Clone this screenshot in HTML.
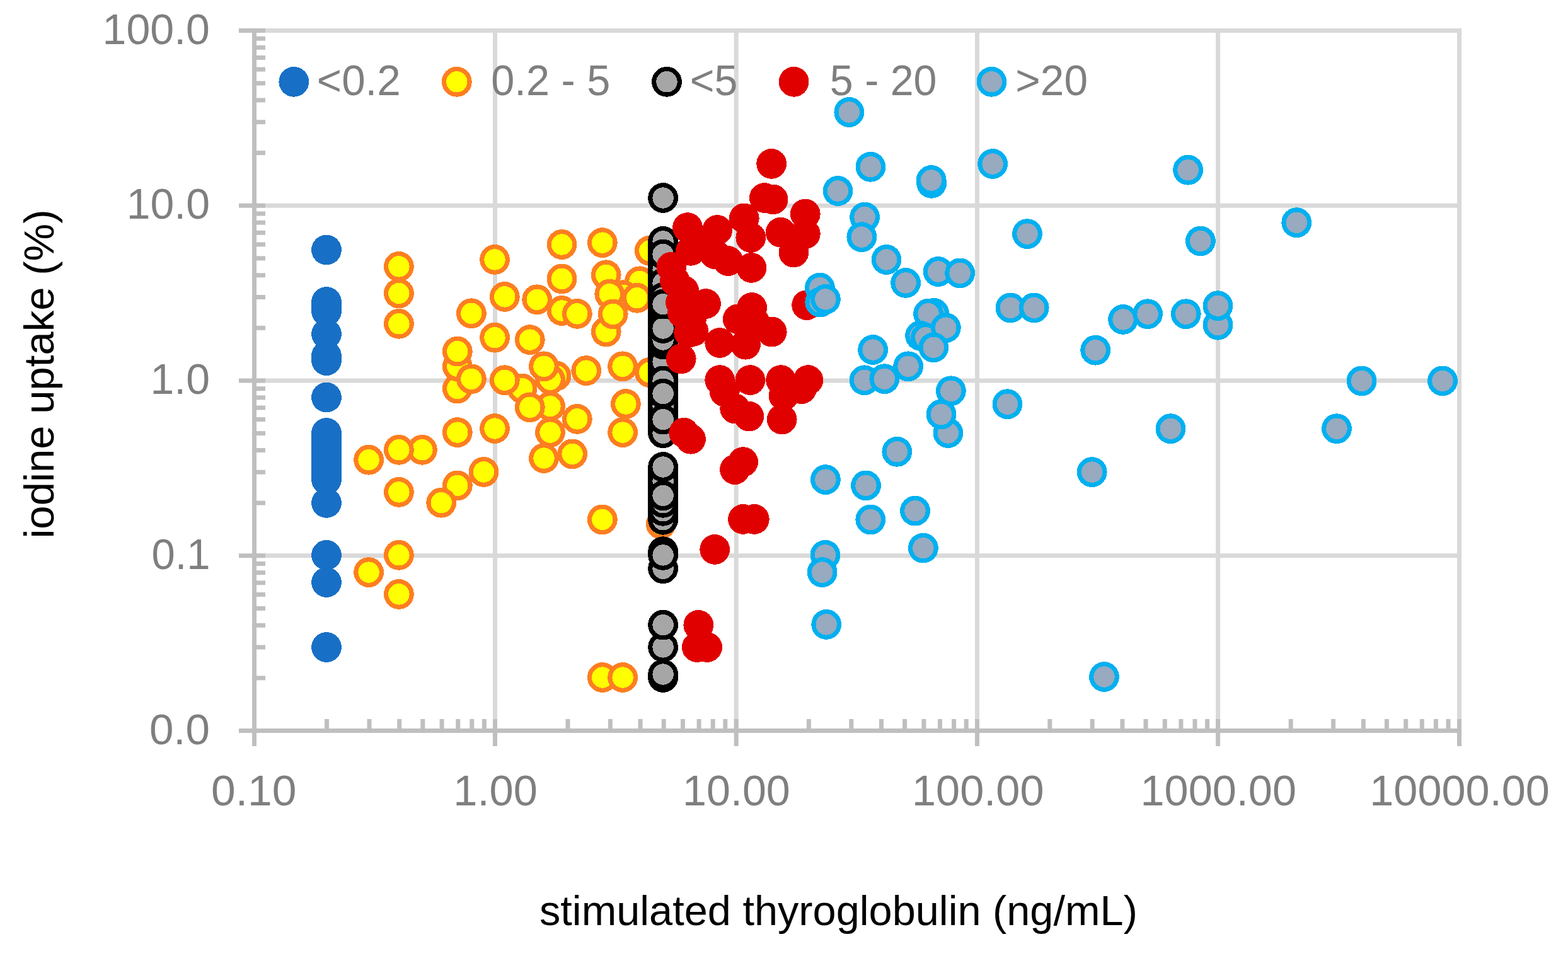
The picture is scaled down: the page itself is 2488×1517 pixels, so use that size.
<!DOCTYPE html>
<html lang="en"><head><meta charset="utf-8"><title>iodine uptake vs stimulated thyroglobulin</title>
<style>html,body{margin:0;padding:0;background:#fff}svg{display:block}text{font-family:"Liberation Sans",Arial,sans-serif}</style></head><body>
<svg width="2488" height="1517" viewBox="0 0 2488 1517">
<rect width="2488" height="1517" fill="#fff"/>
<g stroke="#d9d9d9" stroke-width="7.0" fill="none">
<line x1="403.5" y1="48.5" x2="2319.0" y2="48.5"/>
<line x1="403.5" y1="326.2" x2="2319.0" y2="326.2"/>
<line x1="403.5" y1="604.0" x2="2319.0" y2="604.0"/>
<line x1="403.5" y1="881.8" x2="2319.0" y2="881.8"/>
<line x1="785.5" y1="45.0" x2="785.5" y2="1159.5"/>
<line x1="1168.2" y1="45.0" x2="1168.2" y2="1159.5"/>
<line x1="1550.5" y1="45.0" x2="1550.5" y2="1159.5"/>
<line x1="1932.6" y1="45.0" x2="1932.6" y2="1159.5"/>
<line x1="2315.5" y1="45.0" x2="2315.5" y2="1159.5"/>
</g>
<g stroke="#bfbfbf" stroke-width="7.0" fill="none">
<line x1="403.5" y1="45.0" x2="403.5" y2="1184"/>
<line x1="379" y1="1159.5" x2="2319.0" y2="1159.5"/>
<line x1="403.5" y1="1075.9" x2="421" y2="1075.9"/>
<line x1="403.5" y1="1027.0" x2="421" y2="1027.0"/>
<line x1="403.5" y1="992.3" x2="421" y2="992.3"/>
<line x1="403.5" y1="965.4" x2="421" y2="965.4"/>
<line x1="403.5" y1="943.4" x2="421" y2="943.4"/>
<line x1="403.5" y1="924.8" x2="421" y2="924.8"/>
<line x1="403.5" y1="908.7" x2="421" y2="908.7"/>
<line x1="403.5" y1="894.5" x2="421" y2="894.5"/>
<line x1="379" y1="881.8" x2="421" y2="881.8"/>
<line x1="403.5" y1="798.1" x2="421" y2="798.1"/>
<line x1="403.5" y1="749.2" x2="421" y2="749.2"/>
<line x1="403.5" y1="714.5" x2="421" y2="714.5"/>
<line x1="403.5" y1="687.6" x2="421" y2="687.6"/>
<line x1="403.5" y1="665.6" x2="421" y2="665.6"/>
<line x1="403.5" y1="647.0" x2="421" y2="647.0"/>
<line x1="403.5" y1="630.9" x2="421" y2="630.9"/>
<line x1="403.5" y1="616.7" x2="421" y2="616.7"/>
<line x1="379" y1="604.0" x2="421" y2="604.0"/>
<line x1="403.5" y1="520.4" x2="421" y2="520.4"/>
<line x1="403.5" y1="471.5" x2="421" y2="471.5"/>
<line x1="403.5" y1="436.8" x2="421" y2="436.8"/>
<line x1="403.5" y1="409.9" x2="421" y2="409.9"/>
<line x1="403.5" y1="387.9" x2="421" y2="387.9"/>
<line x1="403.5" y1="369.3" x2="421" y2="369.3"/>
<line x1="403.5" y1="353.2" x2="421" y2="353.2"/>
<line x1="403.5" y1="339.0" x2="421" y2="339.0"/>
<line x1="379" y1="326.2" x2="421" y2="326.2"/>
<line x1="403.5" y1="242.6" x2="421" y2="242.6"/>
<line x1="403.5" y1="193.7" x2="421" y2="193.7"/>
<line x1="403.5" y1="159.0" x2="421" y2="159.0"/>
<line x1="403.5" y1="132.1" x2="421" y2="132.1"/>
<line x1="403.5" y1="110.1" x2="421" y2="110.1"/>
<line x1="403.5" y1="91.5" x2="421" y2="91.5"/>
<line x1="403.5" y1="75.4" x2="421" y2="75.4"/>
<line x1="403.5" y1="61.2" x2="421" y2="61.2"/>
<line x1="379" y1="48.5" x2="421" y2="48.5"/>
<line x1="518.6" y1="1141" x2="518.6" y2="1159.5"/>
<line x1="586.0" y1="1141" x2="586.0" y2="1159.5"/>
<line x1="633.7" y1="1141" x2="633.7" y2="1159.5"/>
<line x1="670.8" y1="1141" x2="670.8" y2="1159.5"/>
<line x1="701.1" y1="1141" x2="701.1" y2="1159.5"/>
<line x1="726.7" y1="1141" x2="726.7" y2="1159.5"/>
<line x1="748.8" y1="1141" x2="748.8" y2="1159.5"/>
<line x1="768.4" y1="1141" x2="768.4" y2="1159.5"/>
<line x1="785.5" y1="1141" x2="785.5" y2="1184"/>
<line x1="901.0" y1="1141" x2="901.0" y2="1159.5"/>
<line x1="968.4" y1="1141" x2="968.4" y2="1159.5"/>
<line x1="1016.1" y1="1141" x2="1016.1" y2="1159.5"/>
<line x1="1053.2" y1="1141" x2="1053.2" y2="1159.5"/>
<line x1="1083.5" y1="1141" x2="1083.5" y2="1159.5"/>
<line x1="1109.1" y1="1141" x2="1109.1" y2="1159.5"/>
<line x1="1131.2" y1="1141" x2="1131.2" y2="1159.5"/>
<line x1="1150.8" y1="1141" x2="1150.8" y2="1159.5"/>
<line x1="1168.2" y1="1141" x2="1168.2" y2="1184"/>
<line x1="1283.4" y1="1141" x2="1283.4" y2="1159.5"/>
<line x1="1350.8" y1="1141" x2="1350.8" y2="1159.5"/>
<line x1="1398.5" y1="1141" x2="1398.5" y2="1159.5"/>
<line x1="1435.6" y1="1141" x2="1435.6" y2="1159.5"/>
<line x1="1465.9" y1="1141" x2="1465.9" y2="1159.5"/>
<line x1="1491.5" y1="1141" x2="1491.5" y2="1159.5"/>
<line x1="1513.6" y1="1141" x2="1513.6" y2="1159.5"/>
<line x1="1533.2" y1="1141" x2="1533.2" y2="1159.5"/>
<line x1="1550.5" y1="1141" x2="1550.5" y2="1184"/>
<line x1="1665.8" y1="1141" x2="1665.8" y2="1159.5"/>
<line x1="1733.2" y1="1141" x2="1733.2" y2="1159.5"/>
<line x1="1780.9" y1="1141" x2="1780.9" y2="1159.5"/>
<line x1="1818.0" y1="1141" x2="1818.0" y2="1159.5"/>
<line x1="1848.3" y1="1141" x2="1848.3" y2="1159.5"/>
<line x1="1873.9" y1="1141" x2="1873.9" y2="1159.5"/>
<line x1="1896.0" y1="1141" x2="1896.0" y2="1159.5"/>
<line x1="1915.6" y1="1141" x2="1915.6" y2="1159.5"/>
<line x1="1932.6" y1="1141" x2="1932.6" y2="1184"/>
<line x1="2048.2" y1="1141" x2="2048.2" y2="1159.5"/>
<line x1="2115.6" y1="1141" x2="2115.6" y2="1159.5"/>
<line x1="2163.3" y1="1141" x2="2163.3" y2="1159.5"/>
<line x1="2200.4" y1="1141" x2="2200.4" y2="1159.5"/>
<line x1="2230.7" y1="1141" x2="2230.7" y2="1159.5"/>
<line x1="2256.3" y1="1141" x2="2256.3" y2="1159.5"/>
<line x1="2278.4" y1="1141" x2="2278.4" y2="1159.5"/>
<line x1="2298.0" y1="1141" x2="2298.0" y2="1159.5"/>
<line x1="2315.5" y1="1141" x2="2315.5" y2="1184"/>
</g>
<text x="162.6" y="69.9" font-size="68.5" fill="#7f7f7f" textLength="170.4" lengthAdjust="spacingAndGlyphs">100.0</text>
<text x="200.7" y="347.4" font-size="68.5" fill="#7f7f7f" textLength="132.3" lengthAdjust="spacingAndGlyphs">10.0</text>
<text x="238.5" y="625.2" font-size="68.5" fill="#7f7f7f" textLength="94.5" lengthAdjust="spacingAndGlyphs">1.0</text>
<text x="240.4" y="903.0" font-size="68.5" fill="#7f7f7f" textLength="93.2" lengthAdjust="spacingAndGlyphs">0.1</text>
<text x="236.9" y="1180.6" font-size="68.5" fill="#7f7f7f" textLength="96.2" lengthAdjust="spacingAndGlyphs">0.0</text>
<text x="335.0" y="1278.0" font-size="68.5" fill="#7f7f7f" textLength="135.4" lengthAdjust="spacingAndGlyphs">0.10</text>
<text x="719.3" y="1278.0" font-size="68.5" fill="#7f7f7f" textLength="133.6" lengthAdjust="spacingAndGlyphs">1.00</text>
<text x="1083.1" y="1278.0" font-size="68.5" fill="#7f7f7f" textLength="170.7" lengthAdjust="spacingAndGlyphs">10.00</text>
<text x="1447.0" y="1278.0" font-size="68.5" fill="#7f7f7f" textLength="209.5" lengthAdjust="spacingAndGlyphs">100.00</text>
<text x="1809.5" y="1278.0" font-size="68.5" fill="#7f7f7f" textLength="247.5" lengthAdjust="spacingAndGlyphs">1000.00</text>
<text x="2173.3" y="1278.0" font-size="68.5" fill="#7f7f7f" textLength="285.5" lengthAdjust="spacingAndGlyphs">10000.00</text>
<text x="1330.4" y="1468.2" font-size="66.7" fill="#000" text-anchor="middle">stimulated thyroglobulin (ng/mL)</text>
<text transform="translate(85,593.5) rotate(-90)" font-size="67.1" fill="#000" text-anchor="middle">iodine uptake (%)</text>
<g fill="#1770c6" shape-rendering="crispEdges">
<circle cx="518.0" cy="396.5" r="23.9"/>
<circle cx="518.0" cy="479.0" r="23.9"/>
<circle cx="518.0" cy="486.5" r="23.9"/>
<circle cx="518.0" cy="493.8" r="23.9"/>
<circle cx="518.0" cy="530.0" r="23.9"/>
<circle cx="518.0" cy="564.6" r="23.9"/>
<circle cx="518.0" cy="572.1" r="23.9"/>
<circle cx="518.0" cy="630.6" r="23.9"/>
<circle cx="518.0" cy="687.0" r="23.9"/>
<circle cx="518.0" cy="694.4" r="23.9"/>
<circle cx="518.0" cy="701.9" r="23.9"/>
<circle cx="518.0" cy="709.3" r="23.9"/>
<circle cx="518.0" cy="716.7" r="23.9"/>
<circle cx="518.0" cy="724.1" r="23.9"/>
<circle cx="518.0" cy="731.6" r="23.9"/>
<circle cx="518.0" cy="739.0" r="23.9"/>
<circle cx="518.0" cy="746.4" r="23.9"/>
<circle cx="518.0" cy="753.9" r="23.9"/>
<circle cx="518.0" cy="761.3" r="23.9"/>
<circle cx="518.0" cy="797.9" r="23.9"/>
<circle cx="518.0" cy="880.8" r="23.9"/>
<circle cx="518.0" cy="924.0" r="23.9"/>
<circle cx="518.0" cy="1027.0" r="23.9"/>
</g>
<g fill="#ffff00" stroke="#fd7e21" stroke-width="7.2" shape-rendering="crispEdges">
<circle cx="632.9" cy="422.9" r="20.3"/>
<circle cx="632.9" cy="465.5" r="20.3"/>
<circle cx="632.9" cy="513.8" r="20.3"/>
<circle cx="785.0" cy="411.9" r="20.3"/>
<circle cx="891.5" cy="388.0" r="20.3"/>
<circle cx="955.8" cy="385.1" r="20.3"/>
<circle cx="1030.8" cy="397.8" r="20.3"/>
<circle cx="891.5" cy="442.4" r="20.3"/>
<circle cx="961.7" cy="436.3" r="20.3"/>
<circle cx="1015.0" cy="446.3" r="20.3"/>
<circle cx="800.8" cy="470.9" r="20.3"/>
<circle cx="852.2" cy="475.3" r="20.3"/>
<circle cx="988.1" cy="468.2" r="20.3"/>
<circle cx="967.3" cy="466.7" r="20.3"/>
<circle cx="1010.8" cy="472.8" r="20.3"/>
<circle cx="891.5" cy="493.0" r="20.3"/>
<circle cx="915.8" cy="497.9" r="20.3"/>
<circle cx="961.7" cy="526.4" r="20.3"/>
<circle cx="972.7" cy="498.4" r="20.3"/>
<circle cx="747.9" cy="497.2" r="20.3"/>
<circle cx="785.0" cy="535.7" r="20.3"/>
<circle cx="840.8" cy="539.1" r="20.3"/>
<circle cx="725.8" cy="616.6" r="20.3"/>
<circle cx="725.8" cy="581.3" r="20.3"/>
<circle cx="725.8" cy="557.6" r="20.3"/>
<circle cx="747.9" cy="601.3" r="20.3"/>
<circle cx="828.5" cy="616.6" r="20.3"/>
<circle cx="800.8" cy="603.2" r="20.3"/>
<circle cx="882.5" cy="596.5" r="20.3"/>
<circle cx="873.0" cy="602.2" r="20.3"/>
<circle cx="863.0" cy="581.3" r="20.3"/>
<circle cx="930.2" cy="588.1" r="20.3"/>
<circle cx="988.1" cy="581.3" r="20.3"/>
<circle cx="1030.8" cy="591.0" r="20.3"/>
<circle cx="873.0" cy="644.6" r="20.3"/>
<circle cx="840.8" cy="646.3" r="20.3"/>
<circle cx="915.8" cy="664.9" r="20.3"/>
<circle cx="992.9" cy="641.0" r="20.3"/>
<circle cx="988.1" cy="686.1" r="20.3"/>
<circle cx="873.0" cy="686.1" r="20.3"/>
<circle cx="785.0" cy="680.0" r="20.3"/>
<circle cx="725.8" cy="686.1" r="20.3"/>
<circle cx="585.1" cy="729.7" r="20.3"/>
<circle cx="669.9" cy="713.8" r="20.3"/>
<circle cx="632.9" cy="713.8" r="20.3"/>
<circle cx="767.5" cy="748.9" r="20.3"/>
<circle cx="725.8" cy="770.4" r="20.3"/>
<circle cx="700.2" cy="797.7" r="20.3"/>
<circle cx="632.9" cy="780.9" r="20.3"/>
<circle cx="863.0" cy="727.0" r="20.3"/>
<circle cx="908.1" cy="720.4" r="20.3"/>
<circle cx="955.8" cy="824.5" r="20.3"/>
<circle cx="1048.7" cy="831.7" r="20.3"/>
<circle cx="632.9" cy="880.8" r="20.3"/>
<circle cx="585.1" cy="908.1" r="20.3"/>
<circle cx="632.9" cy="942.9" r="20.3"/>
<circle cx="955.8" cy="824.4" r="20.3"/>
<circle cx="955.8" cy="1075.0" r="20.3"/>
<circle cx="988.1" cy="1075.0" r="20.3"/>
</g>
<g fill="#a6a6a6" stroke="#000000" stroke-width="7.2" shape-rendering="crispEdges">
<circle cx="1052.1" cy="501.8" r="20.3"/>
<circle cx="1052.1" cy="560.1" r="20.3"/>
<circle cx="1052.1" cy="508.2" r="20.3"/>
<circle cx="1052.1" cy="495.4" r="20.3"/>
<circle cx="1052.1" cy="415.8" r="20.3"/>
<circle cx="1052.1" cy="592.2" r="20.3"/>
<circle cx="1052.1" cy="586.2" r="20.3"/>
<circle cx="1052.1" cy="775.0" r="20.3"/>
<circle cx="1052.1" cy="460.7" r="20.3"/>
<circle cx="1052.1" cy="752.3" r="20.3"/>
<circle cx="1052.1" cy="676.4" r="20.3"/>
<circle cx="1052.1" cy="438.6" r="20.3"/>
<circle cx="1052.1" cy="817.8" r="20.3"/>
<circle cx="1052.1" cy="658.6" r="20.3"/>
<circle cx="1052.1" cy="651.6" r="20.3"/>
<circle cx="1052.1" cy="567.1" r="20.3"/>
<circle cx="1052.1" cy="553.2" r="20.3"/>
<circle cx="1052.1" cy="396.6" r="20.3"/>
<circle cx="1052.1" cy="389.8" r="20.3"/>
<circle cx="1052.1" cy="617.9" r="20.3"/>
<circle cx="1052.1" cy="611.1" r="20.3"/>
<circle cx="1052.1" cy="637.9" r="20.3"/>
<circle cx="1052.1" cy="631.3" r="20.3"/>
<circle cx="1052.1" cy="804.3" r="20.3"/>
<circle cx="1052.1" cy="514.6" r="20.3"/>
<circle cx="1052.1" cy="489.0" r="20.3"/>
<circle cx="1052.1" cy="421.9" r="20.3"/>
<circle cx="1052.1" cy="409.6" r="20.3"/>
<circle cx="1052.1" cy="598.3" r="20.3"/>
<circle cx="1052.1" cy="580.1" r="20.3"/>
<circle cx="1052.1" cy="533.0" r="20.3"/>
<circle cx="1052.1" cy="527.0" r="20.3"/>
<circle cx="1052.1" cy="466.4" r="20.3"/>
<circle cx="1052.1" cy="455.0" r="20.3"/>
<circle cx="1052.1" cy="792.1" r="20.3"/>
<circle cx="1052.1" cy="780.7" r="20.3"/>
<circle cx="1052.1" cy="769.3" r="20.3"/>
<circle cx="1052.1" cy="758.0" r="20.3"/>
<circle cx="1052.1" cy="746.6" r="20.3"/>
<circle cx="1052.1" cy="681.8" r="20.3"/>
<circle cx="1052.1" cy="671.0" r="20.3"/>
<circle cx="1052.1" cy="444.0" r="20.3"/>
<circle cx="1052.1" cy="433.3" r="20.3"/>
<circle cx="1052.1" cy="477.4" r="20.3"/>
<circle cx="1052.1" cy="542.6" r="20.3"/>
<circle cx="1052.1" cy="1075.0" r="20.3"/>
<circle cx="1052.1" cy="1070.0" r="20.3"/>
<circle cx="1052.1" cy="1026.9" r="20.3"/>
<circle cx="1052.1" cy="991.6" r="20.3"/>
<circle cx="1052.1" cy="902.2" r="20.3"/>
<circle cx="1052.1" cy="875.2" r="20.3"/>
<circle cx="1052.1" cy="880.9" r="20.3"/>
<circle cx="1052.1" cy="824.8" r="20.3"/>
<circle cx="1052.1" cy="810.8" r="20.3"/>
<circle cx="1052.1" cy="797.8" r="20.3"/>
<circle cx="1052.1" cy="763.6" r="20.3"/>
<circle cx="1052.1" cy="786.4" r="20.3"/>
<circle cx="1052.1" cy="741.0" r="20.3"/>
<circle cx="1052.1" cy="687.2" r="20.3"/>
<circle cx="1052.1" cy="644.6" r="20.3"/>
<circle cx="1052.1" cy="665.6" r="20.3"/>
<circle cx="1052.1" cy="574.0" r="20.3"/>
<circle cx="1052.1" cy="604.4" r="20.3"/>
<circle cx="1052.1" cy="624.6" r="20.3"/>
<circle cx="1052.1" cy="546.3" r="20.3"/>
<circle cx="1052.1" cy="539.0" r="20.3"/>
<circle cx="1052.1" cy="521.0" r="20.3"/>
<circle cx="1052.1" cy="428.0" r="20.3"/>
<circle cx="1052.1" cy="382.9" r="20.3"/>
<circle cx="1052.1" cy="403.5" r="20.3"/>
<circle cx="1052.1" cy="449.3" r="20.3"/>
<circle cx="1052.1" cy="472.1" r="20.3"/>
<circle cx="1052.1" cy="482.6" r="20.3"/>
<circle cx="1052.1" cy="314.0" r="20.3"/>
</g>
<g fill="#e00000" shape-rendering="crispEdges">
<circle cx="1224.2" cy="259.9" r="23.9"/>
<circle cx="1212.8" cy="314.0" r="23.9"/>
<circle cx="1226.6" cy="316.4" r="23.9"/>
<circle cx="1180.8" cy="346.4" r="23.9"/>
<circle cx="1277.8" cy="339.5" r="23.9"/>
<circle cx="1277.8" cy="371.2" r="23.9"/>
<circle cx="1238.7" cy="368.7" r="23.9"/>
<circle cx="1259.4" cy="400.5" r="23.9"/>
<circle cx="1091.0" cy="361.1" r="23.9"/>
<circle cx="1138.3" cy="365.0" r="23.9"/>
<circle cx="1191.3" cy="377.0" r="23.9"/>
<circle cx="1192.4" cy="424.9" r="23.9"/>
<circle cx="1155.4" cy="414.1" r="23.9"/>
<circle cx="1096.1" cy="397.8" r="23.9"/>
<circle cx="1134.2" cy="403.1" r="23.9"/>
<circle cx="1113.0" cy="383.0" r="23.9"/>
<circle cx="1065.4" cy="423.6" r="23.9"/>
<circle cx="1070.9" cy="446.0" r="23.9"/>
<circle cx="1120.0" cy="482.0" r="23.9"/>
<circle cx="1193.1" cy="488.0" r="23.9"/>
<circle cx="1170.8" cy="506.4" r="23.9"/>
<circle cx="1280.1" cy="484.1" r="23.9"/>
<circle cx="1085.2" cy="461.4" r="23.9"/>
<circle cx="1080.0" cy="480.0" r="23.9"/>
<circle cx="1096.9" cy="506.6" r="23.9"/>
<circle cx="1093.2" cy="527.7" r="23.9"/>
<circle cx="1100.5" cy="525.7" r="23.9"/>
<circle cx="1083.0" cy="497.0" r="23.9"/>
<circle cx="1197.5" cy="511.0" r="23.9"/>
<circle cx="1080.7" cy="569.4" r="23.9"/>
<circle cx="1142.2" cy="544.0" r="23.9"/>
<circle cx="1224.7" cy="526.6" r="23.9"/>
<circle cx="1183.0" cy="546.7" r="23.9"/>
<circle cx="1142.2" cy="603.1" r="23.9"/>
<circle cx="1190.3" cy="603.1" r="23.9"/>
<circle cx="1239.1" cy="603.1" r="23.9"/>
<circle cx="1282.3" cy="603.1" r="23.9"/>
<circle cx="1149.8" cy="621.6" r="23.9"/>
<circle cx="1166.2" cy="648.4" r="23.9"/>
<circle cx="1188.3" cy="660.6" r="23.9"/>
<circle cx="1243.6" cy="627.7" r="23.9"/>
<circle cx="1272.0" cy="617.1" r="23.9"/>
<circle cx="1240.7" cy="665.5" r="23.9"/>
<circle cx="1085.2" cy="686.7" r="23.9"/>
<circle cx="1096.0" cy="696.7" r="23.9"/>
<circle cx="1179.1" cy="733.1" r="23.9"/>
<circle cx="1166.0" cy="745.1" r="23.9"/>
<circle cx="1179.0" cy="823.9" r="23.9"/>
<circle cx="1196.8" cy="823.9" r="23.9"/>
<circle cx="1134.2" cy="871.9" r="23.9"/>
<circle cx="1108.3" cy="991.9" r="23.9"/>
<circle cx="1105.8" cy="1027.0" r="23.9"/>
<circle cx="1122.1" cy="1027.0" r="23.9"/>
</g>
<g fill="#97aac0" stroke="#00b0f0" stroke-width="7.2" shape-rendering="crispEdges">
<circle cx="1347.3" cy="178.0" r="20.3"/>
<circle cx="1381.4" cy="264.8" r="20.3"/>
<circle cx="1478.1" cy="290.8" r="20.3"/>
<circle cx="1477.7" cy="286.0" r="20.3"/>
<circle cx="1329.5" cy="303.0" r="20.3"/>
<circle cx="1372.1" cy="344.5" r="20.3"/>
<circle cx="1367.3" cy="376.1" r="20.3"/>
<circle cx="1406.5" cy="412.0" r="20.3"/>
<circle cx="1437.1" cy="448.9" r="20.3"/>
<circle cx="1488.6" cy="431.0" r="20.3"/>
<circle cx="1523.1" cy="433.4" r="20.3"/>
<circle cx="1300.9" cy="456.6" r="20.3"/>
<circle cx="1301.3" cy="479.5" r="20.3"/>
<circle cx="1309.9" cy="474.9" r="20.3"/>
<circle cx="1575.1" cy="260.0" r="20.3"/>
<circle cx="1885.1" cy="269.7" r="20.3"/>
<circle cx="2057.3" cy="353.2" r="20.3"/>
<circle cx="1630.0" cy="371.1" r="20.3"/>
<circle cx="1904.9" cy="382.5" r="20.3"/>
<circle cx="1603.4" cy="488.4" r="20.3"/>
<circle cx="1640.7" cy="488.4" r="20.3"/>
<circle cx="1738.2" cy="555.7" r="20.3"/>
<circle cx="1782.1" cy="506.9" r="20.3"/>
<circle cx="1821.1" cy="498.2" r="20.3"/>
<circle cx="1881.8" cy="498.2" r="20.3"/>
<circle cx="1932.5" cy="515.7" r="20.3"/>
<circle cx="1932.5" cy="485.2" r="20.3"/>
<circle cx="2160.6" cy="604.4" r="20.3"/>
<circle cx="2289.0" cy="604.4" r="20.3"/>
<circle cx="1598.5" cy="641.2" r="20.3"/>
<circle cx="1857.5" cy="680.2" r="20.3"/>
<circle cx="2121.0" cy="680.2" r="20.3"/>
<circle cx="1732.7" cy="749.1" r="20.3"/>
<circle cx="1482.1" cy="496.9" r="20.3"/>
<circle cx="1473.1" cy="497.7" r="20.3"/>
<circle cx="1460.1" cy="532.6" r="20.3"/>
<circle cx="1468.9" cy="535.9" r="20.3"/>
<circle cx="1500.8" cy="520.1" r="20.3"/>
<circle cx="1481.3" cy="551.3" r="20.3"/>
<circle cx="1385.1" cy="555.0" r="20.3"/>
<circle cx="1371.6" cy="603.3" r="20.3"/>
<circle cx="1403.3" cy="601.2" r="20.3"/>
<circle cx="1441.1" cy="581.3" r="20.3"/>
<circle cx="1508.9" cy="620.3" r="20.3"/>
<circle cx="1504.4" cy="687.0" r="20.3"/>
<circle cx="1493.5" cy="657.5" r="20.3"/>
<circle cx="1423.3" cy="716.8" r="20.3"/>
<circle cx="1309.9" cy="761.1" r="20.3"/>
<circle cx="1374.0" cy="770.4" r="20.3"/>
<circle cx="1381.3" cy="824.5" r="20.3"/>
<circle cx="1452.0" cy="810.6" r="20.3"/>
<circle cx="1464.9" cy="869.6" r="20.3"/>
<circle cx="1309.5" cy="880.8" r="20.3"/>
<circle cx="1304.6" cy="908.1" r="20.3"/>
<circle cx="1311.2" cy="990.9" r="20.3"/>
<circle cx="1752.0" cy="1074.0" r="20.3"/>
</g>
<g fill="#1770c6" shape-rendering="crispEdges">
<circle cx="466.3" cy="129.8" r="23.9"/>
</g>
<g fill="#ffff00" stroke="#fd7e21" stroke-width="7.2" shape-rendering="crispEdges">
<circle cx="724.8" cy="129.8" r="20.3"/>
</g>
<g fill="#a6a6a6" stroke="#000000" stroke-width="7.2" shape-rendering="crispEdges">
<circle cx="1058.0" cy="129.8" r="20.3"/>
</g>
<g fill="#e00000" shape-rendering="crispEdges">
<circle cx="1259.6" cy="129.8" r="23.9"/>
</g>
<g fill="#97aac0" stroke="#00b0f0" stroke-width="7.2" shape-rendering="crispEdges">
<circle cx="1573.4" cy="129.8" r="20.3"/>
</g>
<text x="502.8" y="151.2" font-size="68.5" fill="#7f7f7f" textLength="133.0" lengthAdjust="spacingAndGlyphs">&lt;0.2</text>
<text x="779.3" y="151.2" font-size="68.5" fill="#7f7f7f" textLength="189.0" lengthAdjust="spacingAndGlyphs">0.2 - 5</text>
<text x="1094.7" y="151.2" font-size="68.5" fill="#7f7f7f" textLength="75.6" lengthAdjust="spacingAndGlyphs">&lt;5</text>
<text x="1316.8" y="151.2" font-size="68.5" fill="#7f7f7f" textLength="169.7" lengthAdjust="spacingAndGlyphs">5 - 20</text>
<text x="1611.3" y="151.2" font-size="68.5" fill="#7f7f7f" textLength="114.7" lengthAdjust="spacingAndGlyphs">&gt;20</text>
</svg></body></html>
